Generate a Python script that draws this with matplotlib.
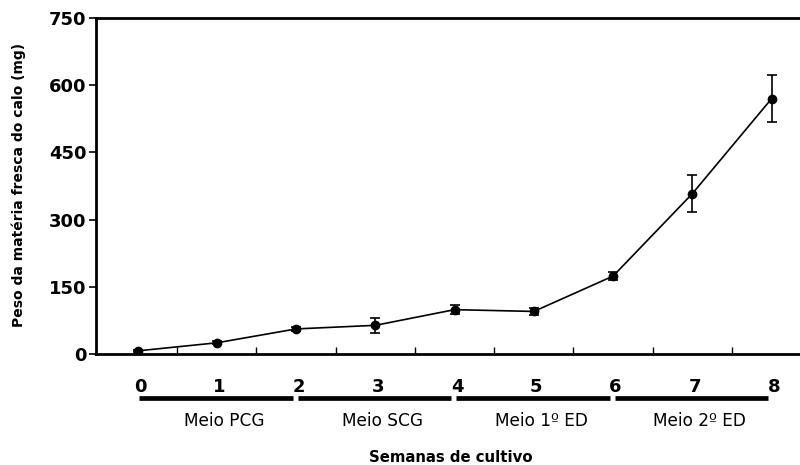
import numpy as np
import matplotlib.pyplot as plt
import matplotlib.transforms as mtransforms

plt.rcParams['font.family'] = ['DejaVu Sans']

weeks = [0, 1, 2, 3, 4, 5, 6, 7, 8]
mass = [7, 25, 56, 64, 99, 95, 174, 358, 570]
err = [3, 3, 4, 17, 10, 7, 8, 42, 53]
media = ["Meio PCG", "Meio SCG", "Meio 1º ED", "Meio 2º ED"]
media_start = [0, 2, 4, 6]
media_end = [2, 4, 6, 8]
yticks = [0, 150, 300, 450, 600, 750]

fig = plt.figure(figsize=(8, 4.65), dpi=100)
ax = fig.add_axes([0.12, 0.2387, 0.88, 0.7226])

ax.errorbar(weeks, mass, yerr=err, color='black', lw=1.2, marker='o', ms=6,
            capsize=3.8, elinewidth=1.2, capthick=1.2)

ax.set_xlim(-0.525, 8.358)
ax.set_ylim(0, 750)
ax.set_yticks(yticks)
ax.set_yticklabels([str(v) for v in yticks], fontsize=13, fontweight='bold')
ax.tick_params(axis='y', direction='out', length=5, width=1.2, pad=2)

# eixo x: marcas internas entre as semanas, sem rótulos
ax.set_xticks(np.array(weeks[:-1]) + 0.5)
ax.set_xticklabels([])
ax.tick_params(axis='x', direction='in', length=5, width=1)

for s in ['left', 'top', 'bottom']:
    ax.spines[s].set_linewidth(2)
ax.spines['right'].set_visible(False)

trans = mtransforms.blended_transform_factory(ax.transData, ax.transAxes)
for w in weeks:
    ax.text(w + 0.03, -0.097, str(w), transform=trans, ha='center', va='center',
            fontsize=13, fontweight='bold')

for a, b, name in zip(media_start, media_end, media):
    ax.plot([a + 0.02, b - 0.04], [-0.132, -0.132], transform=trans, color='black',
            lw=3.4, solid_capstyle='butt', clip_on=False)
    ax.text((a + b) / 2 + 0.09, -0.1985, name, transform=trans, ha='center',
            va='center', fontsize=12.2)

ax.text(0.504, -0.308, "Semanas de cultivo", transform=ax.transAxes, ha='center',
        va='center', fontsize=10.7, fontweight='bold')
fig.text(0.024, 0.603, "Peso da matéria fresca do calo (mg)", rotation=90,
         ha='center', va='center', fontsize=10, fontweight='bold')

fig.savefig('out.png', dpi=100)
